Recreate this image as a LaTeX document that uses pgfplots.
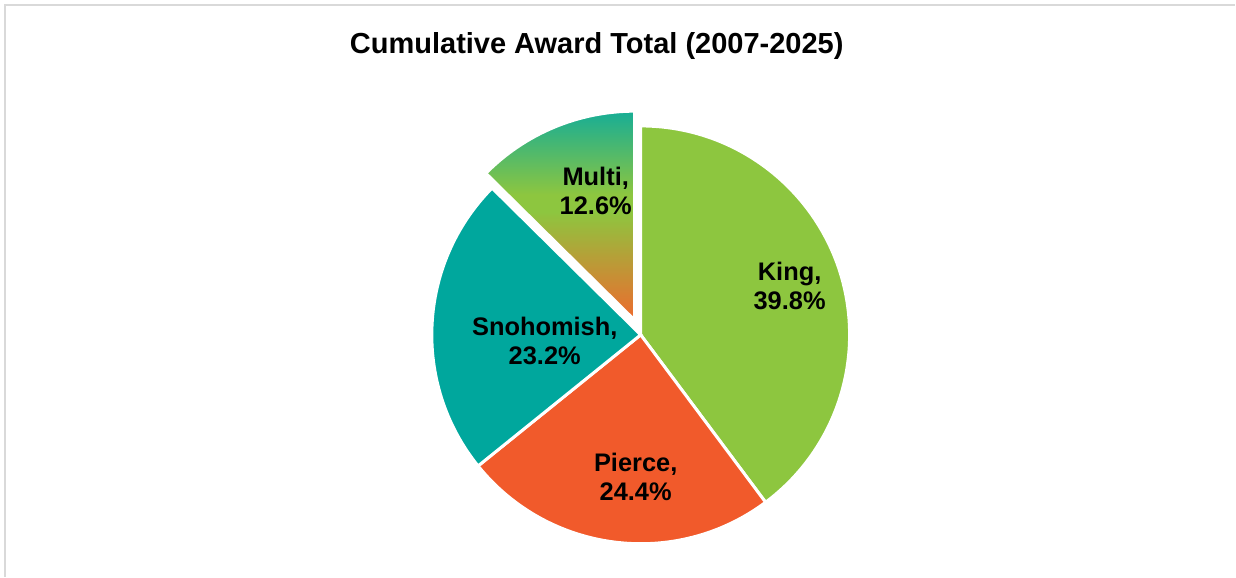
\documentclass[border=0pt]{standalone}
\usepackage{pgfplots}
\pgfplotsset{compat=1.18}
\usepackage{pgfplotstable}
\usepackage{fontspec}
\setmainfont{Liberation Sans}
\definecolor{cKing}{HTML}{8DC63F}
\definecolor{cPierce}{HTML}{F15A2B}
\definecolor{cSnoh}{HTML}{00A79D}
\definecolor{cMultiTop}{HTML}{17AD95}
\definecolor{cMultiMid}{HTML}{8DC63F}
\definecolor{cMultiBot}{HTML}{EE6A2E}
\definecolor{cFrame}{HTML}{D9D9D9}
\pgfdeclareverticalshading{multishade}{100bp}{color(0bp)=(cMultiBot); color(25bp)=(cMultiBot); color(51bp)=(cMultiMid); color(55bp)=(cMultiMid); color(75bp)=(cMultiTop); color(100bp)=(cMultiTop)}
\begin{document}
\begin{tikzpicture}
\pgfplotstableread{
name value
King 39.8
Pierce 24.4
Snohomish 23.2
Multi 12.6
}\piedata
\pgfplotstablegetelem{0}{value}\of\piedata \pgfmathsetmacro\vKing{\pgfplotsretval}
\pgfplotstablegetelem{1}{value}\of\piedata \pgfmathsetmacro\vPierce{\pgfplotsretval}
\pgfplotstablegetelem{2}{value}\of\piedata \pgfmathsetmacro\vSnoh{\pgfplotsretval}
\pgfplotstablegetelem{3}{value}\of\piedata \pgfmathsetmacro\vMulti{\pgfplotsretval}
\pgfmathsetmacro\aA{90}
\pgfmathsetmacro\aB{\aA-3.6*\vKing}
\pgfmathsetmacro\aC{\aB-3.6*\vPierce}
\pgfmathsetmacro\aD{\aC-3.6*\vSnoh}
\pgfmathsetmacro\aE{\aD-3.6*\vMulti}
\pgfmathsetmacro\aMid{(\aD+\aE)/2}
\def\R{104.5pt}
\begin{axis}[x=0.5pt,y=0.5pt,xmin=0,xmax=1236,ymin=0,ymax=577,hide axis,clip=false]
\path (axis cs:0,0) rectangle (axis cs:1236,577);
\draw[cFrame, line width=0.6pt] (axis cs:5,0) -- (axis cs:5,572) -- (axis cs:1236,572);
\filldraw[fill=cKing, draw=white, line width=1.5pt] (axis cs:641,242) -- ++(\aA:\R) arc[start angle=\aA, end angle=\aB, radius=\R] -- cycle;
\filldraw[fill=cPierce, draw=white, line width=1.5pt] (axis cs:641,242) -- ++(\aB:\R) arc[start angle=\aB, end angle=\aC, radius=\R] -- cycle;
\filldraw[fill=cSnoh, draw=white, line width=1.5pt] (axis cs:641,242) -- ++(\aC:\R) arc[start angle=\aC, end angle=\aD, radius=\R] -- cycle;
\shadedraw[shading=multishade, draw=white, line width=1.5pt] ([shift={(\aMid:8pt)}]axis cs:641,242) -- ++(\aD:\R) arc[start angle=\aD, end angle=\aE, radius=\R] -- cycle;
\node[anchor=base, font=\fontsize{14.5}{17}\selectfont\bfseries] at (axis cs:597,523) {Cumulative Award Total (2007-2025)};
\tikzset{lbl/.style={align=center, font=\fontsize{12.7}{14.5}\selectfont\bfseries}}
\node[lbl] at (axis cs:790,291) {King,\\39.8\%};
\node[lbl] at (axis cs:636,100) {Pierce,\\24.4\%};
\node[lbl] at (axis cs:545,236) {Snohomish,\\23.2\%};
\node[lbl] at (axis cs:596,386) {Multi,\\12.6\%};
\end{axis}
\end{tikzpicture}
\end{document}
